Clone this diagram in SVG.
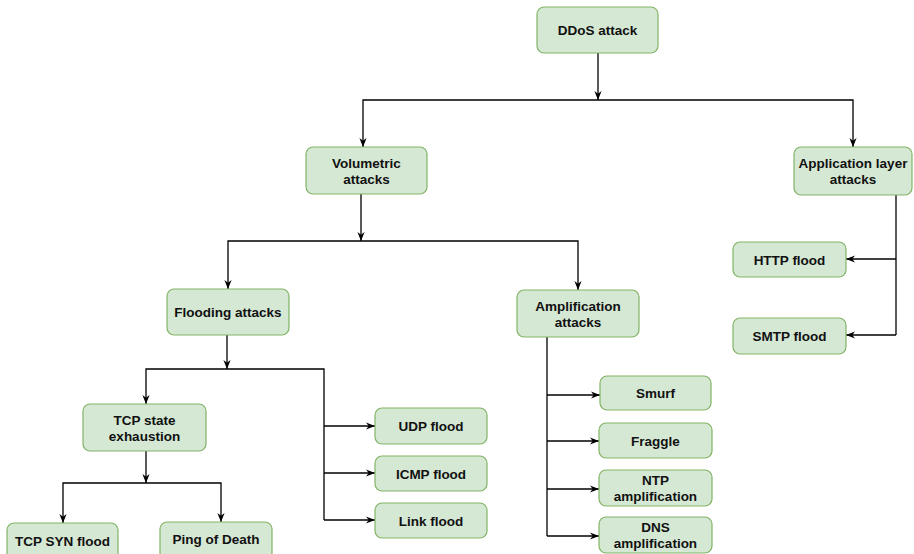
<svg xmlns="http://www.w3.org/2000/svg" width="914" height="554" viewBox="0 0 914 554">
<style>
.box{fill:#d5e8d4;stroke:#82b366;stroke-width:1.2}
.t{font-family:"Liberation Sans",Arial,sans-serif;font-weight:bold;font-size:13.5px;fill:#111;text-anchor:middle}
.c{fill:none;stroke:#000;stroke-width:1.3}
</style>
<defs>
<marker id="ah" viewBox="0 0 10 8" refX="10" refY="4" markerWidth="9" markerHeight="8" markerUnits="userSpaceOnUse" orient="auto">
<path d="M0,0 L10,4 L0,8 L3,4 Z" fill="#000"/>
</marker>
</defs>
<rect width="914" height="554" fill="#fff"/>
<g id="connectors">
<path class="c" d="M598,53 V100" marker-end="url(#ah)"/>
<path class="c" d="M598,100 H363 V147" marker-end="url(#ah)"/>
<path class="c" d="M598,100 H853 V147" marker-end="url(#ah)"/>
<path class="c" d="M361,194 V241" marker-end="url(#ah)"/>
<path class="c" d="M361,241 H228 V289" marker-end="url(#ah)"/>
<path class="c" d="M361,241 H578 V290" marker-end="url(#ah)"/>
<path class="c" d="M227,335 V369" marker-end="url(#ah)"/>
<path class="c" d="M227,369 H146 V404" marker-end="url(#ah)"/>
<path class="c" d="M227,369 H324 V520"/>
<path class="c" d="M324,426 H375" marker-end="url(#ah)"/>
<path class="c" d="M324,473 H375" marker-end="url(#ah)"/>
<path class="c" d="M324,520 H375" marker-end="url(#ah)"/>
<path class="c" d="M146,451 V483" marker-end="url(#ah)"/>
<path class="c" d="M146,483 H63 V523" marker-end="url(#ah)"/>
<path class="c" d="M146,483 H221 V522" marker-end="url(#ah)"/>
<path class="c" d="M547,337 V536"/>
<path class="c" d="M547,395 H600" marker-end="url(#ah)"/>
<path class="c" d="M547,441 H599" marker-end="url(#ah)"/>
<path class="c" d="M547,489 H599" marker-end="url(#ah)"/>
<path class="c" d="M547,536 H599" marker-end="url(#ah)"/>
<path class="c" d="M896,195 V335"/>
<path class="c" d="M896,259 H846" marker-end="url(#ah)"/>
<path class="c" d="M896,335 H846" marker-end="url(#ah)"/>
</g>
<g id="ddos"><rect class="box" x="537" y="7" width="121" height="46" rx="7"/><text class="t" x="597.5" y="35">DDoS attack</text></g>
<g id="volumetric"><rect class="box" x="306" y="147" width="121" height="47" rx="7"/><text class="t" x="366.5" y="167.5">Volumetric</text><text class="t" x="366.5" y="183.5">attacks</text></g>
<g id="application"><rect class="box" x="794" y="147" width="118" height="48" rx="7"/><text class="t" x="853" y="168">Application layer</text><text class="t" x="853" y="184">attacks</text></g>
<g id="http"><rect class="box" x="733" y="242" width="113" height="35" rx="7"/><text class="t" x="789.5" y="264.5">HTTP flood</text></g>
<g id="smtp"><rect class="box" x="733" y="318" width="113" height="36" rx="7"/><text class="t" x="789.5" y="341">SMTP flood</text></g>
<g id="flooding"><rect class="box" x="167" y="289" width="122" height="46" rx="7"/><text class="t" x="228" y="317">Flooding attacks</text></g>
<g id="amplification"><rect class="box" x="517" y="290" width="122" height="47" rx="7"/><text class="t" x="578" y="310.5">Amplification</text><text class="t" x="578" y="326.5">attacks</text></g>
<g id="tcpstate"><rect class="box" x="83" y="404" width="123" height="47" rx="7"/><text class="t" x="144.5" y="424.5">TCP state</text><text class="t" x="144.5" y="440.5">exhaustion</text></g>
<g id="tcpsyn"><rect class="box" x="7" y="523" width="111" height="40" rx="7"/><text class="t" x="62.5" y="545.5">TCP SYN flood</text></g>
<g id="ping"><rect class="box" x="160" y="522" width="112" height="40" rx="7"/><text class="t" x="216" y="543.5">Ping of Death</text></g>
<g id="udp"><rect class="box" x="375" y="408" width="112" height="36" rx="7"/><text class="t" x="431" y="431">UDP flood</text></g>
<g id="icmp"><rect class="box" x="375" y="456" width="112" height="35" rx="7"/><text class="t" x="431" y="478.5">ICMP flood</text></g>
<g id="link"><rect class="box" x="375" y="503" width="112" height="35" rx="7"/><text class="t" x="431" y="525.5">Link flood</text></g>
<g id="smurf"><rect class="box" x="600" y="376" width="111" height="34" rx="7"/><text class="t" x="655.5" y="398">Smurf</text></g>
<g id="fraggle"><rect class="box" x="599" y="423" width="113" height="35" rx="7"/><text class="t" x="655.5" y="445.5">Fraggle</text></g>
<g id="ntp"><rect class="box" x="599" y="470" width="113" height="36" rx="7"/><text class="t" x="655.5" y="485">NTP</text><text class="t" x="655.5" y="501">amplification</text></g>
<g id="dns"><rect class="box" x="599" y="517" width="113" height="36" rx="7"/><text class="t" x="655.5" y="532">DNS</text><text class="t" x="655.5" y="548">amplification</text></g>
</svg>
